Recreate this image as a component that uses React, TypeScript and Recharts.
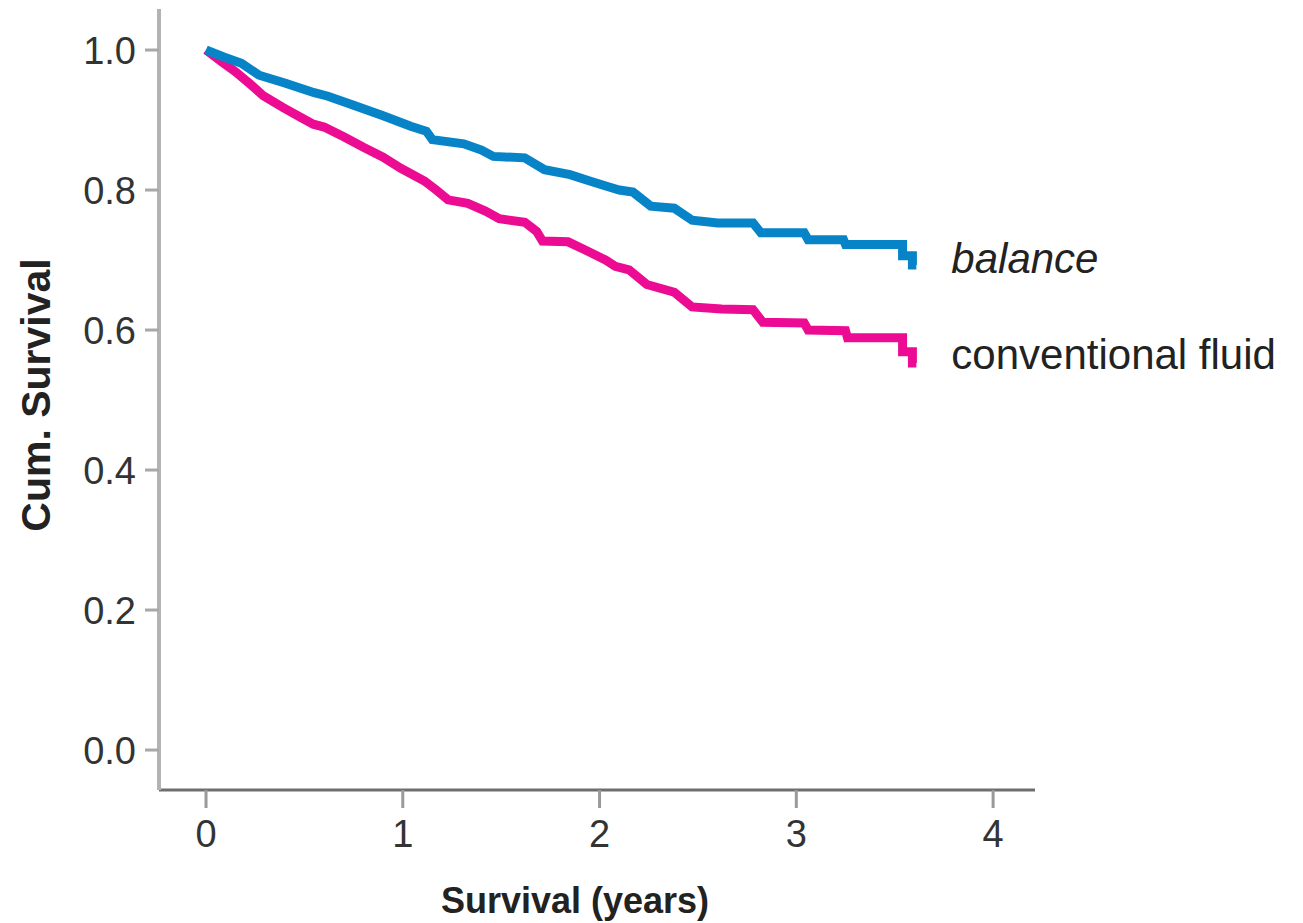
import React from 'react';
import { LineChart, Line, XAxis, YAxis, LabelList } from 'recharts';

// Kaplan-Meier curves (time in years, cumulative survival)
const balanceTimes = [
  0, 0.09, 0.18, 0.27, 0.4, 0.55, 0.62, 0.75, 0.9, 1.04, 1.12, 1.15, 1.31, 1.4, 1.46,
  1.62, 1.72, 1.85, 1.95, 2.04, 2.1, 2.17, 2.26, 2.38, 2.47, 2.6, 2.78, 2.82, 3.04,
  3.06, 3.24, 3.25, 3.54, 3.54, 3.59, 3.59, 3.61,
];
const balanceValues = [
  1.0, 0.99, 0.981, 0.964, 0.953, 0.939, 0.934, 0.921, 0.906, 0.891, 0.884, 0.872, 0.866,
  0.857, 0.848, 0.846, 0.829, 0.822, 0.813, 0.805, 0.8, 0.797, 0.777, 0.774, 0.757,
  0.753, 0.753, 0.739, 0.739, 0.729, 0.729, 0.722, 0.722, 0.706, 0.706, 0.693, 0.693,
];

const fluidTimes = [
  0, 0.08, 0.15, 0.23, 0.29, 0.39, 0.48, 0.545, 0.6, 0.7, 0.8, 0.9, 0.99, 1.11, 1.17,
  1.23, 1.33, 1.42, 1.49, 1.62, 1.68, 1.71, 1.84, 1.93, 2.03, 2.08, 2.15, 2.24, 2.38,
  2.47, 2.62, 2.78, 2.83, 3.04, 3.06, 3.25, 3.26, 3.54, 3.54, 3.59, 3.59, 3.61,
];
const fluidValues = [
  1.0, 0.983, 0.969, 0.95, 0.935, 0.918, 0.904, 0.894, 0.89, 0.876, 0.861, 0.847, 0.831,
  0.813, 0.8, 0.786, 0.781, 0.77, 0.759, 0.754, 0.741, 0.727, 0.726, 0.714, 0.7, 0.691,
  0.686, 0.665, 0.654, 0.633, 0.63, 0.629, 0.611, 0.61, 0.6, 0.599, 0.589, 0.589, 0.569,
  0.569, 0.553, 0.553,
];

const xTicks = [0, 1, 2, 3, 4];
const yTicks = [0, 0.2, 0.4, 0.6, 0.8, 1.0];

const balanceData = balanceTimes.map((t, i) => ({ t, v: balanceValues[i] }));
const fluidData = fluidTimes.map((t, i) => ({ t, v: fluidValues[i] }));

const FONT = '"Liberation Sans", Arial, Helvetica, sans-serif';

const endLabel = (name: string, count: number, italic: boolean, dy: number) => (props: any) => {
  if (props.index !== count - 1) return null;
  return (
    <text
      x={props.x + 35}
      y={props.y + dy}
      fontSize={42}
      fontStyle={italic ? 'italic' : 'normal'}
      fill="#222"
      dominantBaseline="central"
      fontFamily={FONT}
    >
      {name}
    </text>
  );
};

export default function App() {
  return (
    <div style={{ position: 'absolute', left: 0, top: 0, width: 1303, height: 923, background: '#fff', fontFamily: FONT }}>
      <LineChart width={1303} height={923} margin={{ top: 9, right: 268, bottom: 132, left: 158 }}>
        <XAxis
          type="number"
          dataKey="t"
          domain={[-0.239, 4.213]}
          ticks={xTicks}
          allowDataOverflow
          height={1}
          tickSize={18}
          tickMargin={12}
          axisLine={{ stroke: '#6e6e6e', strokeWidth: 3 }}
          tickLine={{ stroke: '#9a9a9a', strokeWidth: 3 }}
          tick={{ fill: '#333', fontSize: 38, fontFamily: FONT }}
        />
        <YAxis
          type="number"
          domain={[-0.0571, 1.0586]}
          ticks={yTicks}
          allowDataOverflow
          width={1}
          tickSize={14}
          tickMargin={9}
          tickFormatter={(v: number) => v.toFixed(1)}
          axisLine={{ stroke: '#b3b3b3', strokeWidth: 4 }}
          tickLine={{ stroke: '#a8a8a8', strokeWidth: 3 }}
          tick={{ fill: '#333', fontSize: 38, fontFamily: FONT }}
        />
        <Line
          data={fluidData}
          dataKey="v"
          type="linear"
          stroke="#ec0c94"
          strokeWidth={9}
          dot={false}
          isAnimationActive={false}
        >
          <LabelList dataKey="v" content={endLabel('conventional fluid', fluidData.length, false, -8)} />
        </Line>
        <Line
          data={balanceData}
          dataKey="v"
          type="linear"
          stroke="#0784c8"
          strokeWidth={9}
          dot={false}
          isAnimationActive={false}
        >
          <LabelList dataKey="v" content={endLabel('balance', balanceData.length, true, -6)} />
        </Line>
        <text x={575} y={900} textAnchor="middle" dominantBaseline="central" fontSize={36} fontWeight="bold" fill="#222" fontFamily={FONT}>
          Survival (years)
        </text>
        <text x={36} y={395} transform="rotate(-90 36 395)" textAnchor="middle" dominantBaseline="central" fontSize={41} fontWeight="bold" fill="#222" fontFamily={FONT}>
          Cum. Survival
        </text>
      </LineChart>
    </div>
  );
}
